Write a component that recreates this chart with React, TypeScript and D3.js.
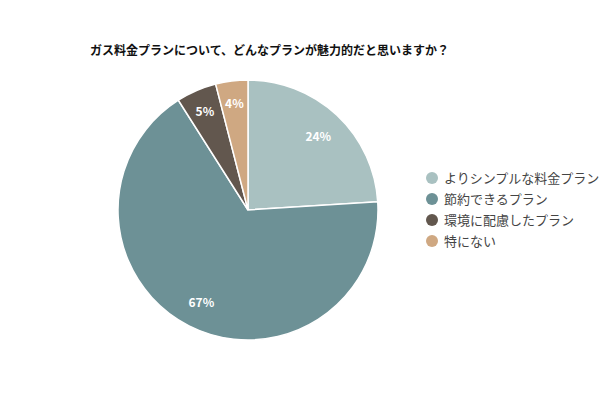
import React from "react";
import * as d3 from "d3";

const categories = ["よりシンプルな料金プラン", "節約できるプラン", "環境に配慮したプラン", "特にない"];
const values = [24, 67, 5, 4];
const colors = ["#a9c1c1", "#6d9196", "#62574e", "#cfa882"];

const title = "ガス料金プランについて、どんなプランが魅力的だと思いますか？";

export default function App() {
  const width = 600;
  const height = 400;
  const cx = 248;
  const cy = 210;
  const radius = 130;

  const pie = d3.pie<number>().sort(null).value((d) => d);
  const arcs = pie(values);
  const arcGen = d3.arc<d3.PieArcDatum<number>>().innerRadius(0).outerRadius(radius);
  // small slices get their labels pushed a little further out
  const bigLabel = d3.arc<d3.PieArcDatum<number>>().innerRadius(radius * 0.79).outerRadius(radius * 0.79);
  const smallLabel = d3.arc<d3.PieArcDatum<number>>().innerRadius(radius * 0.835).outerRadius(radius * 0.835);
  const total = d3.sum(values);

  const legendY = d3.scalePoint<string>().domain(categories).range([178, 241]);

  return (
    <svg
      width={width}
      height={height}
      style={{ position: "absolute", left: 0, top: 0, fontFamily: "'Noto Sans CJK JP', sans-serif" }}
    >
      <rect width={width} height={height} fill="#fff" />
      <text x={90} y={55} fontSize={12} fontWeight="bold" fill="#111">
        {title}
      </text>
      <g transform={`translate(${cx},${cy})`}>
        {arcs.map((a, i) => (
          <path key={i} d={arcGen(a) ?? ""} fill={colors[i]} stroke="#fff" strokeWidth={1.5} />
        ))}
        {arcs.map((a, i) => {
          const share = a.data / total;
          const [x, y] = (share < 0.1 ? smallLabel : bigLabel).centroid(a);
          return (
            <text
              key={i}
              x={x}
              y={y}
              textAnchor="middle"
              dominantBaseline="central"
              fontSize={12}
              fontWeight="bold"
              fill="#fff"
            >
              {Math.round(share * 100)}%
            </text>
          );
        })}
      </g>
      <g>
        {categories.map((c, i) => (
          <g key={c} transform={`translate(432,${legendY(c)})`}>
            <circle r={6} fill={colors[i]} />
            <text x={12} dy="0.35em" fontSize={13} fill="#444">
              {c}
            </text>
          </g>
        ))}
      </g>
    </svg>
  );
}
